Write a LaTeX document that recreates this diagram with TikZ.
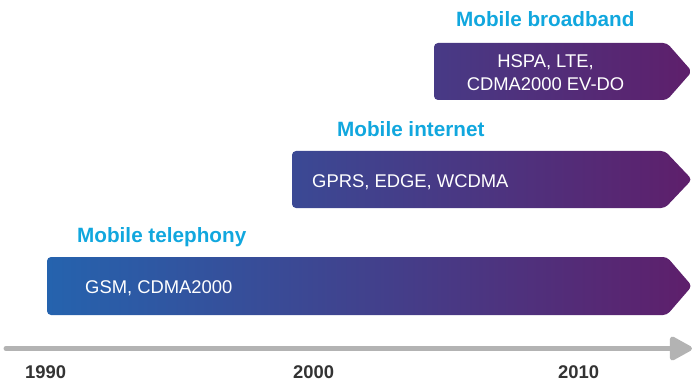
\documentclass[tikz,border=0pt]{standalone}
\usepackage{fontspec}
\setmainfont{Liberation Sans}
\usetikzlibrary{arrows.meta}

\definecolor{headcyan}{RGB}{17,167,222}
\definecolor{gblue}{RGB}{37,99,174}
\definecolor{gpurple}{RGB}{94,31,107}
\definecolor{linegray}{RGB}{179,179,179}
\definecolor{yeargray}{RGB}{51,51,51}

\begin{document}
\begin{tikzpicture}[x=1pt,y=-1pt,
  head/.style={anchor=base west, inner sep=0pt, text=headcyan,
    font=\bfseries\fontsize{20.7}{24}\selectfont},
  inner/.style={inner sep=0pt, text=white, font=\fontsize{18.4}{22}\selectfont},
  year/.style={anchor=base west, inner sep=0pt, text=yeargray,
    font=\bfseries\fontsize{18.4}{22}\selectfont},
  band/.style={rounded corners=4pt, shade, shading angle=90, right color=gpurple}]
\useasboundingbox (0,0) rectangle (692,382);

% bands
\path[band, left color=gpurple!60!gblue]
  (434,43) -- (667,43) -- (692,71.5) -- (667,100) -- (434,100) -- cycle;
\path[band, left color=gpurple!38!gblue]
  (292,151) -- (665,151) -- (692,179.5) -- (665,208) -- (292,208) -- cycle;
\path[band, left color=gblue]
  (47,257) -- (667,257) -- (692,286) -- (667,315) -- (47,315) -- cycle;

% headings
\node[head] (broadband) at (456,27) {Mobile broadband};
\node[head] (internet) at (337,136) {Mobile internet};
\node[head] (telephony) at (77,242) {Mobile telephony};

% technologies
\node[inner, anchor=base] (hspa) at (545.5,68) {HSPA, LTE,};
\node[inner, anchor=base] (evdo) at (545.5,91) {CDMA2000 EV-DO};
\node[inner, anchor=base west] (gprs) at (312,187) {GPRS, EDGE, WCDMA};
\node[inner, anchor=base west] (gsm) at (85,293) {GSM, CDMA2000};

% timeline
\coordinate (tstart) at (6,348.5);
\coordinate (tend) at (692,348.5);
\draw[linegray, line width=5pt, line cap=round,
  -{Triangle[length=25pt,width=26pt,round]}] (tstart) -- (tend);

\node[year] (y1990) at (25,378.5) {1990};
\node[year] (y2000) at (293,378.5) {2000};
\node[year] (y2010) at (558,378.5) {2010};
\end{tikzpicture}
\end{document}
